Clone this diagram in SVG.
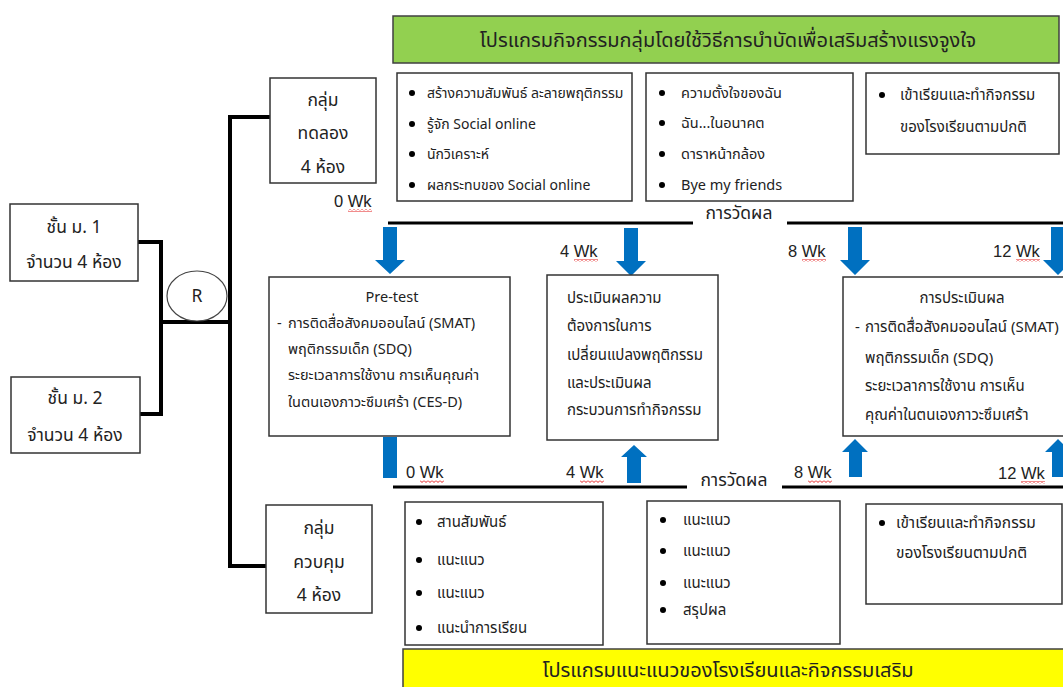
<svg xmlns="http://www.w3.org/2000/svg" width="1063" height="687" viewBox="0 0 1063 687">
<defs>
<pattern id="sq" width="4" height="3" patternUnits="userSpaceOnUse">
<path d="M0,0.5 L2,2.5 L4,0.5" fill="none" stroke="#e00000" stroke-width="0.9"/>
</pattern>
</defs>
<style>
text{font-family:Tahoma,"Noto Sans Thai","Noto Sans","DejaVu Sans",sans-serif;fill:#222}
.box{fill:#fff;stroke:#333;stroke-width:1.5}
.big{font-size:17.5px}
.s14{font-size:14px}
.s145{font-size:14.5px}
.s15{font-size:15px}
.s155{font-size:15.5px}
.ban{font-size:20px}
.conn{fill:none;stroke:#000;stroke-width:4}
.meas{fill:none;stroke:#000;stroke-width:3}
.arr{fill:#0070C0}
.wk{font-family:"Liberation Sans",Arial,sans-serif;font-size:16.5px}
.sq{fill:url(#sq)}
.c{text-anchor:middle}
</style>

<g id="banner-top">
<rect x="393" y="16" width="666" height="47" fill="#92D050" stroke="#404040" stroke-width="1.5"/>
<text class="ban c" x="728" y="47">โปรแกรมกิจกรรมกลุ่มโดยใช้วิธีการบำบัดเพื่อเสริมสร้างแรงจูงใจ</text>
</g>

<g id="connectors">
<polyline class="conn" points="138,242 161,242 161,414 140,414"/>
<line class="conn" x1="161" y1="322" x2="230" y2="322"/>
<polyline class="conn" points="270,117 230,117 230,566 266,566"/>
</g>

<g id="grade1">
<rect class="box" x="10" y="204" width="128" height="77"/>
<text class="big c" x="74" y="233">ชั้น ม. 1</text>
<text class="big c" x="74" y="268">จำนวน 4 ห้อง</text>
</g>
<g id="grade2">
<rect class="box" x="11" y="377" width="129" height="76"/>
<text class="big c" x="75" y="404">ชั้น ม. 2</text>
<text class="big c" x="75" y="441">จำนวน 4 ห้อง</text>
</g>
<g id="random">
<ellipse cx="197" cy="296" rx="30" ry="25" fill="#fff" stroke="#444" stroke-width="1.2"/>
<text class="big c" x="197" y="302">R</text>
</g>
<g id="exp-group">
<rect class="box" x="270" y="78" width="106" height="105"/>
<text class="big c" x="323" y="106">กลุ่ม</text>
<text class="big c" x="323" y="139">ทดลอง</text>
<text class="big c" x="323" y="173">4 ห้อง</text>
</g>
<g id="ctrl-group">
<rect class="box" x="266" y="505" width="106" height="108"/>
<text class="big c" x="319" y="534">กลุ่ม</text>
<text class="big c" x="319" y="568">ควบคุม</text>
<text class="big c" x="319" y="601">4 ห้อง</text>
</g>

<g id="exp-act1">
<rect class="box" x="397" y="73" width="235" height="128"/>
<circle cx="412" cy="93" r="3"/><text class="s14" x="427" y="98">สร้างความสัมพันธ์ ละลายพฤติกรรม</text>
<circle cx="412" cy="124" r="3"/><text class="s14" x="427" y="129">รู้จัก Social online</text>
<circle cx="412" cy="154" r="3"/><text class="s14" x="427" y="159">นักวิเคราะห์</text>
<circle cx="412" cy="185" r="3"/><text class="s14" x="427" y="190">ผลกระทบของ Social online</text>
</g>
<g id="exp-act2">
<rect class="box" x="646" y="73" width="207" height="128"/>
<circle cx="662" cy="93" r="3"/><text class="s145" x="681" y="98">ความตั้งใจของฉัน</text>
<circle cx="662" cy="123" r="3"/><text class="s145" x="681" y="128">ฉัน...ในอนาคต</text>
<circle cx="662" cy="154" r="3"/><text class="s145" x="681" y="159">ดาราหน้ากล้อง</text>
<circle cx="662" cy="185" r="3"/><text class="s145" x="681" y="190">Bye my friends</text>
</g>
<g id="exp-act3">
<rect class="box" x="866" y="73" width="193" height="81"/>
<circle cx="882" cy="95" r="3"/><text class="s15" x="900" y="100">เข้าเรียนและทำกิจกรรม</text>
<text class="s15" x="900" y="132">ของโรงเรียนตามปกติ</text>
</g>

<g id="measure-top">
<line class="meas" x1="388" y1="223" x2="693" y2="223"/>
<line class="meas" x1="787" y1="223" x2="1063" y2="223"/>
<text class="big c" x="739" y="219">การวัดผล</text>
<text class="wk" x="334" y="207">0 Wk</text><rect class="sq" x="348" y="209" width="24" height="3"/>
<text class="wk" x="560" y="257">4 Wk</text><rect class="sq" x="574" y="259" width="24" height="3"/>
<text class="wk" x="788" y="257">8 Wk</text><rect class="sq" x="802" y="259" width="24" height="3"/>
<text class="wk" x="993" y="257">12 Wk</text><rect class="sq" x="1016" y="259" width="24" height="3"/>
<polygon class="arr" points="383,227 397,227 397,260 405,260 390,274 375,260 383,260"/>
<polygon class="arr" points="624,228 638,228 638,261 646,261 631,276 616,261 624,261"/>
<polygon class="arr" points="848,227 862,227 862,260 870,260 855,275 840,260 848,260"/>
<polygon class="arr" points="1051,227 1065,227 1065,260 1073,260 1058,275 1043,260 1051,260"/>
</g>

<g id="pretest">
<rect class="box" x="269" y="277" width="241" height="159"/>
<text class="s145 c" x="392" y="302">Pre-test</text>
<text class="s145" x="277" y="328">-</text>
<text class="s145" x="288" y="328">การติดสื่อสังคมออนไลน์ (SMAT)</text>
<text class="s145" x="288" y="354">พฤติกรรมเด็ก (SDQ)</text>
<text class="s145" x="288" y="380">ระยะเวลาการใช้งาน การเห็นคุณค่า</text>
<text class="s145" x="288" y="407">ในตนเองภาวะซึมเศร้า (CES-D)</text>
</g>
<g id="midtest">
<rect class="box" x="547" y="275" width="171" height="165"/>
<text class="s15" x="567" y="303">ประเมินผลความ</text>
<text class="s15" x="567" y="331">ต้องการในการ</text>
<text class="s15" x="567" y="360">เปลี่ยนแปลงพฤติกรรม</text>
<text class="s15" x="567" y="388">และประเมินผล</text>
<text class="s15" x="567" y="415">กระบวนการทำกิจกรรม</text>
</g>
<g id="posttest">
<rect class="box" x="843" y="277" width="230" height="159"/>
<text class="s15 c" x="962" y="303">การประเมินผล</text>
<text class="s15" x="855" y="332">-</text>
<text class="s15" x="865" y="332">การติดสื่อสังคมออนไลน์ (SMAT)</text>
<text class="s15" x="865" y="363">พฤติกรรมเด็ก (SDQ)</text>
<text class="s15" x="865" y="391">ระยะเวลาการใช้งาน การเห็น</text>
<text class="s15" x="865" y="420">คุณค่าในตนเองภาวะซึมเศร้า</text>
</g>

<g id="measure-bottom">
<rect class="arr" x="383" y="437" width="14" height="41"/>
<polygon class="arr" points="627,483 641,483 641,457 647,457 634,445 621,457 627,457"/>
<polygon class="arr" points="849,477 862,477 862,452 868,452 855,439 842,452 849,452"/>
<polygon class="arr" points="1052,477 1065,477 1065,452 1071,452 1058,439 1045,452 1052,452"/>
<line class="meas" x1="393" y1="487" x2="687" y2="487"/>
<line class="meas" x1="782" y1="487" x2="1063" y2="487"/>
<text class="big c" x="734" y="486">การวัดผล</text>
<text class="wk" x="406" y="478">0 Wk</text><rect class="sq" x="420" y="480" width="24" height="3"/>
<text class="wk" x="566" y="478">4 Wk</text><rect class="sq" x="580" y="480" width="24" height="3"/>
<text class="wk" x="794" y="478">8 Wk</text><rect class="sq" x="808" y="480" width="24" height="3"/>
<text class="wk" x="998" y="479">12 Wk</text><rect class="sq" x="1021" y="481" width="24" height="3"/>
</g>

<g id="ctrl-act1">
<rect class="box" x="405" y="502" width="198" height="143"/>
<circle cx="419" cy="522" r="3"/><text class="s15" x="437" y="527">สานสัมพันธ์</text>
<circle cx="419" cy="560" r="3"/><text class="s15" x="437" y="565">แนะแนว</text>
<circle cx="419" cy="593" r="3"/><text class="s15" x="437" y="598">แนะแนว</text>
<circle cx="419" cy="628" r="3"/><text class="s15" x="437" y="633">แนะนำการเรียน</text>
</g>
<g id="ctrl-act2">
<rect class="box" x="647" y="501" width="193" height="143"/>
<circle cx="663" cy="520" r="3"/><text class="s15" x="683" y="525">แนะแนว</text>
<circle cx="663" cy="551" r="3"/><text class="s15" x="683" y="556">แนะแนว</text>
<circle cx="663" cy="583" r="3"/><text class="s15" x="683" y="588">แนะแนว</text>
<circle cx="663" cy="610" r="3"/><text class="s15" x="683" y="615">สรุปผล</text>
</g>
<g id="ctrl-act3">
<rect class="box" x="866" y="504" width="196" height="100"/>
<circle cx="882" cy="523" r="3"/><text class="s155" x="896" y="528">เข้าเรียนและทำกิจกรรม</text>
<text class="s155" x="896" y="558">ของโรงเรียนตามปกติ</text>
</g>

<g id="banner-bottom">
<rect x="403" y="649" width="662" height="42" fill="#FFFF00" stroke="#404040" stroke-width="1.5"/>
<text class="ban c" x="728" y="677">โปรแกรมแนะแนวของโรงเรียนและกิจกรรมเสริม</text>
</g>
</svg>
